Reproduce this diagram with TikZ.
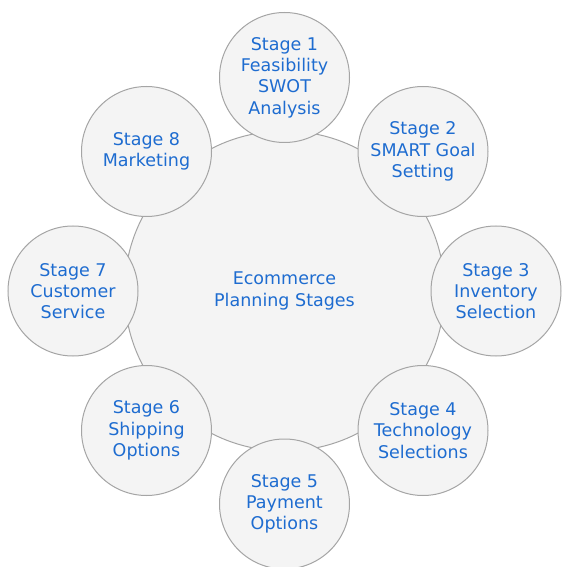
\documentclass[tikz,border=0pt]{standalone}
\usepackage{fontspec}
\setmainfont{DejaVu Sans}
\usepackage{tikz}
\usetikzlibrary{positioning}

\definecolor{stageblue}{RGB}{30,108,208}
\definecolor{stagefill}{RGB}{244,244,244}
\definecolor{stageline}{RGB}{165,165,165}

\tikzset{
	hub/.style = {circle, draw=stageline, fill=stagefill, line width=1pt,
		minimum size=320pt, inner sep=0pt, align=center, text=stageblue,
		font=\fontsize{17.5}{21.3}\selectfont},
	stage/.style = {hub, minimum size=130pt}
}

\begin{document}
\begin{tikzpicture}[x=1pt, y=-1pt]
			\useasboundingbox (0,0) rectangle (571,567);
			
			\node[hub] (hub) at (284.5,291) {Ecommerce\\Planning Stages};
			
			\node[stage] (s1) at (284.5,77.5) {Stage 1\\Feasibility\\SWOT\\Analysis};
			\node[stage] (s2) at (423,151.5) {Stage 2\\SMART Goal\\Setting};
			\node[stage] (s3) at (496,291) {Stage 3\\Inventory\\Selection};
			\node[stage] (s4) at (423,430.5) {Stage 4\\Technology\\Selections};
			\node[stage] (s5) at (284.5,504) {Stage 5\\Payment\\Options};
			\node[stage] (s6) at (146.5,430.5) {Stage 6\\Shipping\\Options};
			\node[stage] (s7) at (73,291) {Stage 7\\Customer\\Service};
			\node[stage] (s8) at (146.5,151.5) {Stage 8\\Marketing};
			
\end{tikzpicture}
\end{document}
